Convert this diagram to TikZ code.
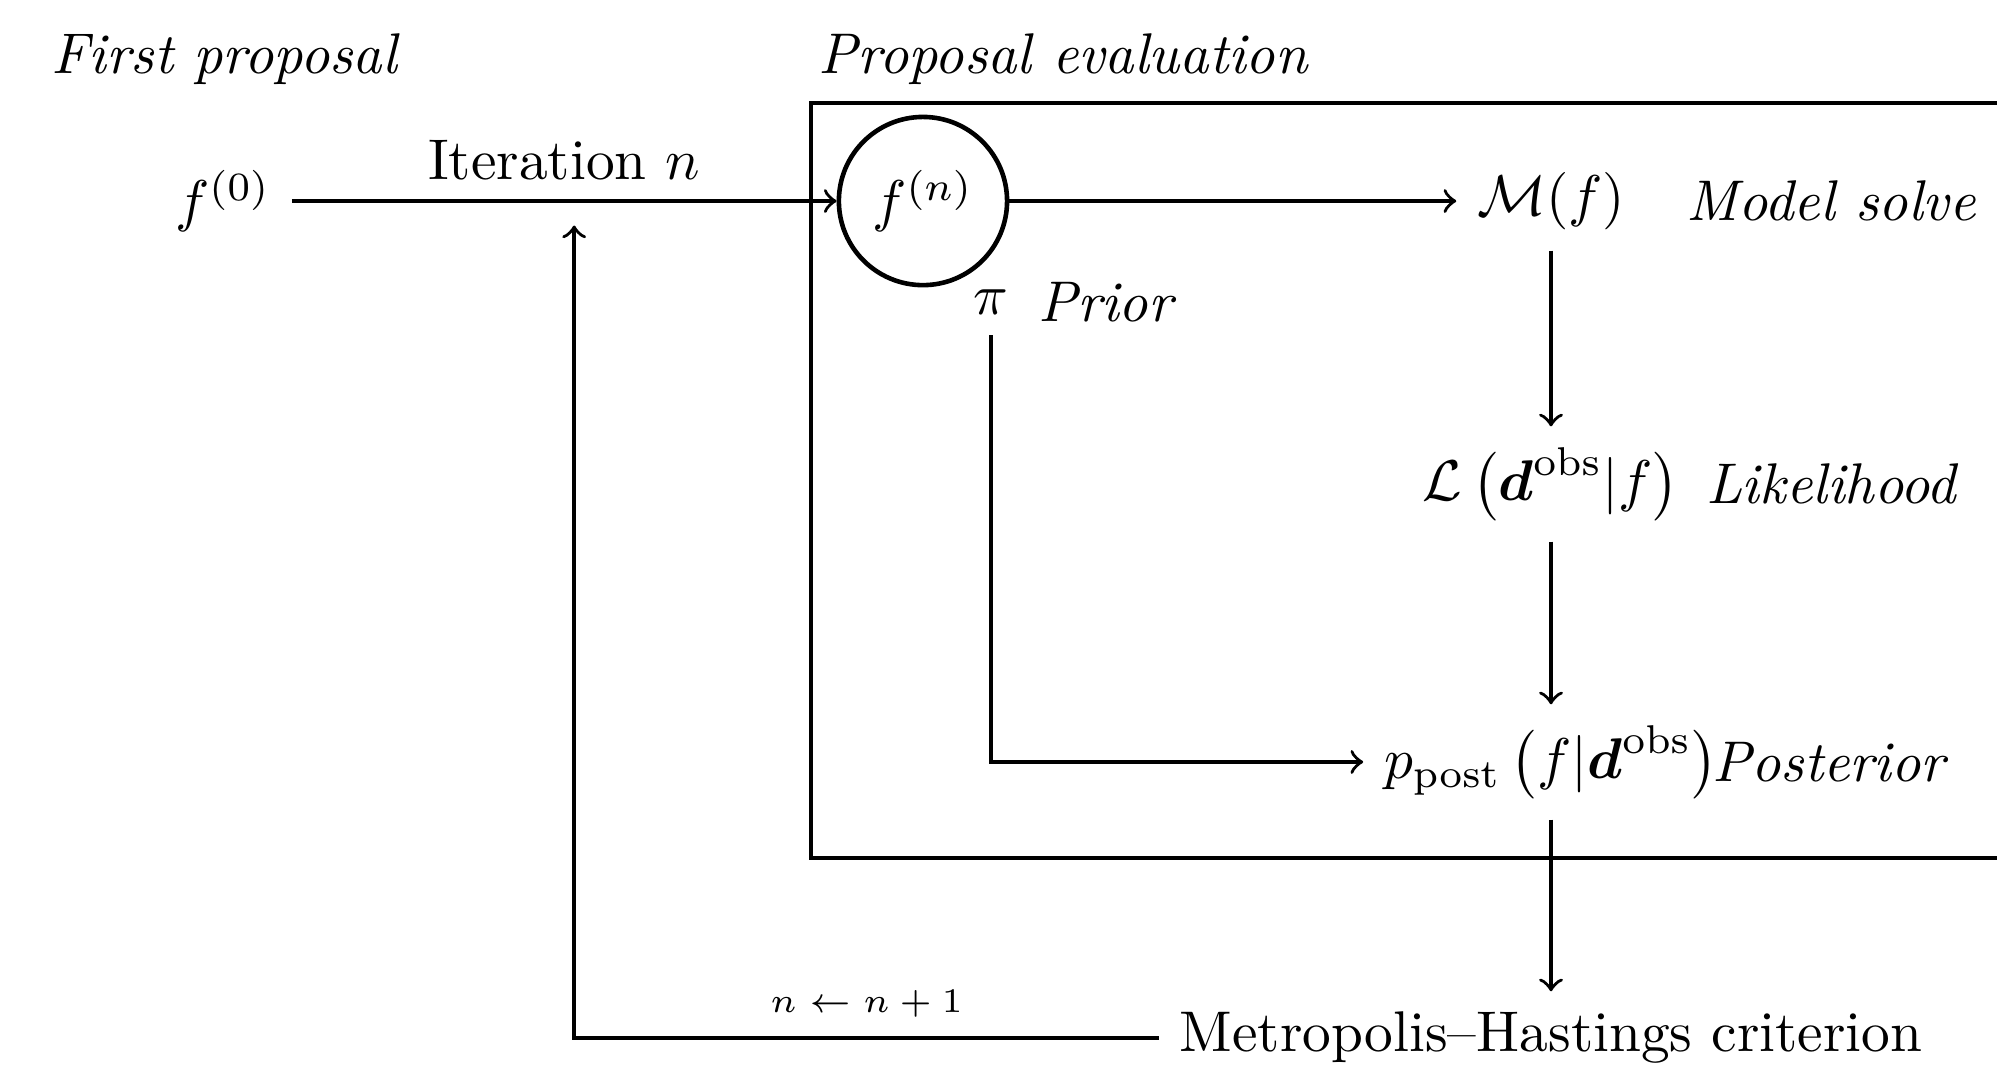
\documentclass[tikz,border=0pt]{standalone}
\usepackage{amsmath}
\usepackage{amssymb}
\usepackage{tikz}
\usetikzlibrary{positioning}
\tikzset{
    mhdiagram/.style={semithick, on grid},
    proposal/.style={draw, circle, thick, minimum size=1.03cm, inner sep=0pt},
    quantity/.style={},
    tag/.style={font=\itshape},
    frame/.style={draw, thick},
    % small label on the feedback line
    counter/.style={font=\fontsize{6.3}{7}\selectfont, midway, above},
}

\begin{document}
\begin{tikzpicture}[mhdiagram]
    \useasboundingbox (0,0) rectangle (12.229,6.546);

    \draw[frame] (4.966,1.292) rectangle (12.5,5.915);
    \node[tag] (firsttitle) at (1.372,6.185) {First proposal};
    \node[tag] (evaltitle)  at (6.51,6.185)  {Proposal evaluation};

    \node[quantity]                             (f0)    at (1.366,5.315) {$f^{(0)}$};
    \node[proposal, right=4.286cm of f0]         (fn)    {$f^{(n)}$};
    \node[quantity, right=3.846cm of fn]         (model) {$\mathcal{M}(f)$};
    \node[quantity, below=1.733cm of model]      (lik)   {$\mathcal{L}\,\bigl(\boldsymbol{d}^{\mathrm{obs}}|f\bigr)$};
    \node[quantity, below=1.702cm of lik]        (post)  {$p_{\mathrm{post}}\,\bigl(f|\boldsymbol{d}^{\mathrm{obs}}\bigr)$};
    \node[quantity, below=1.69cm of post]        (mh)    {Metropolis--Hastings criterion};
    \node[quantity, below right=0.618cm and 0.417cm of fn] (prior) {$\pi$};

    \node[tag, right=0.70cm of prior]   (priortag) {Prior};
    \node[tag, right=1.715cm of model]  (modeltag) {Model solve};
    \node[tag, right=1.715cm of lik]    (liktag)   {Likelihood};
    \node[tag, right=1.70cm of post]    (posttag)  {Posterior};

    \coordinate[below right=0.15cm and 2.15cm of f0] (back);

    \draw[->] (f0) -- node[above] {Iteration $n$} (fn);
    \draw[->] (fn) -- (model);
    \draw[->] (model) -- (lik);
    \draw[->] (lik) -- (post);
    \draw[->] (post) -- (mh);
    \draw[->] (prior) |- (post);
    \draw[->] (mh.west) -- node[counter] {$n \leftarrow n+1$} (back |- mh.west) -- (back);
\end{tikzpicture}
\end{document}
